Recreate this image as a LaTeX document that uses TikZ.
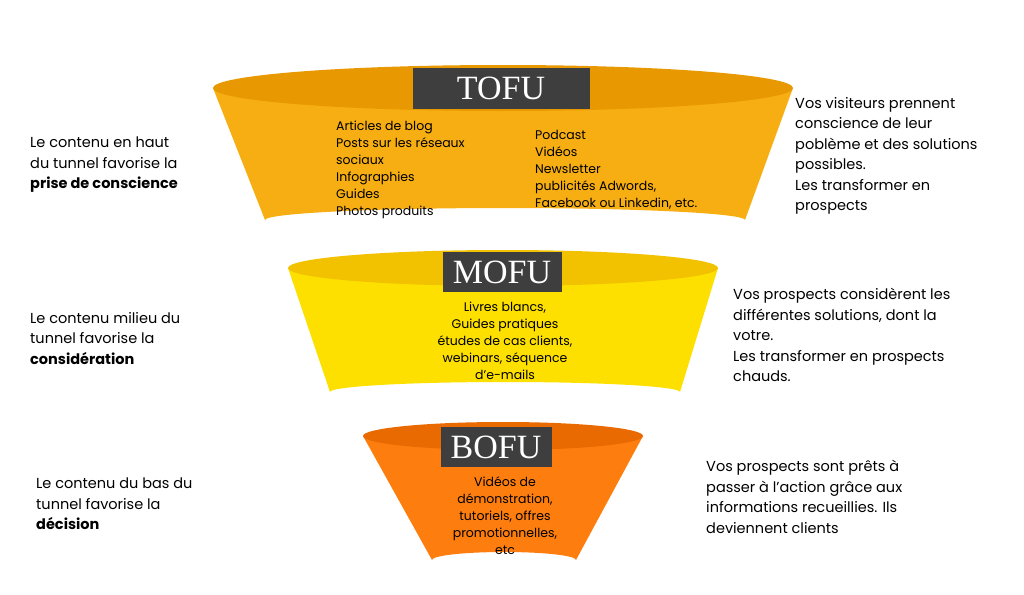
\documentclass[tikz,border=0pt]{standalone}
\usepackage{fontspec}
\setmainfont{Poppins}
\newfontfamily\labelfont{Liberation Serif}
\usetikzlibrary{positioning}
\definecolor{tofuc}{HTML}{F6AE12}
\definecolor{tofur}{HTML}{E89800}
\definecolor{mofuc}{HTML}{FDE000}
\definecolor{mofur}{HTML}{F2C200}
\definecolor{bofuc}{HTML}{FD7E0E}
\definecolor{bofur}{HTML}{E86A00}
\definecolor{tagc}{HTML}{3E3E3E}
\tikzset{
  tag/.style={fill=tagc, text=white, font=\labelfont\fontsize{34}{34}\selectfont, inner sep=0pt},
  inside/.style={font=\fontsize{12.5}{17}\selectfont, align=left, inner sep=0pt},
  side/.style={font=\fontsize{14.5}{20.5}\selectfont, align=left, inner sep=0pt, anchor=north west},
}
\begin{document}
\begin{tikzpicture}[x=1pt,y=-1pt]
  \useasboundingbox (0,0) rectangle (1024,594);
  % funnel 1
  \fill[tofuc] (213,88) -- (265,220) arc[start angle=180,end angle=360,x radius=240,y radius=12] -- (793,88) -- cycle;
  \fill[tofur] (503,88) ellipse[x radius=290,y radius=23];
  \node[tag, minimum width=177, minimum height=41] (tofu) at (501,88) {TOFU};
  % funnel 2
  \fill[mofuc] (288,268) -- (330,392) arc[start angle=180,end angle=360,x radius=175,y radius=10] -- (718,268) -- cycle;
  \fill[mofur] (503,268) ellipse[x radius=215,y radius=18];
  \node[tag, minimum width=119, minimum height=40] (mofu) at (502,272) {MOFU};
  % funnel 3
  \fill[bofuc] (363,436) -- (432,560) arc[start angle=180,end angle=360,x radius=72,y radius=8] -- (643,436) -- cycle;
  \fill[bofur] (503,436) ellipse[x radius=140,y radius=14];
  \node[tag, minimum width=111, minimum height=40] (bofu) at (496,447) {BOFU};
  % funnel contents
  \node[inside, anchor=north west] (tofua) at (336,121) {Articles de blog\\Posts sur les réseaux\\sociaux\\Infographies\\Guides\\Photos produits};
  \node[inside, anchor=north west] (tofub) at (535,130) {Podcast\\Vidéos\\Newsletter\\publicités Adwords,\\Facebook ou Linkedin, etc.};
  \node[inside, align=center, anchor=north] (mofua) at (505,302) {Livres blancs,\\Guides pratiques\\études de cas clients,\\webinars, séquence\\d'e-mails};
  \node[inside, align=center, anchor=north] (bofua) at (505,477) {Vidéos de\\démonstration,\\tutoriels, offres\\promotionnelles,\\etc};
  % side texts
  \node[side] (l1) at (30,137) {Le contenu en haut\\du tunnel favorise la\\\textbf{prise de conscience}};
  \node[side] (l2) at (30,312) {Le contenu milieu du\\tunnel favorise la\\\textbf{considération}};
  \node[side] (l3) at (36,478) {Le contenu du bas du\\tunnel favorise la\\\textbf{décision}};
  \node[side] (r1) at (795,97) {Vos visiteurs prennent\\conscience de leur\\poblème et des solutions\\possibles.\\Les transformer en\\prospects};
  \node[side] (r2) at (733,288) {Vos prospects considèrent les\\différentes solutions, dont la\\votre.\\Les transformer en prospects\\chauds.};
  \node[side] (r3) at (706,460) {Vos prospects sont prêts à\\passer à l’action grâce aux\\informations recueillies. Ils\\deviennent clients};
\end{tikzpicture}
\end{document}
